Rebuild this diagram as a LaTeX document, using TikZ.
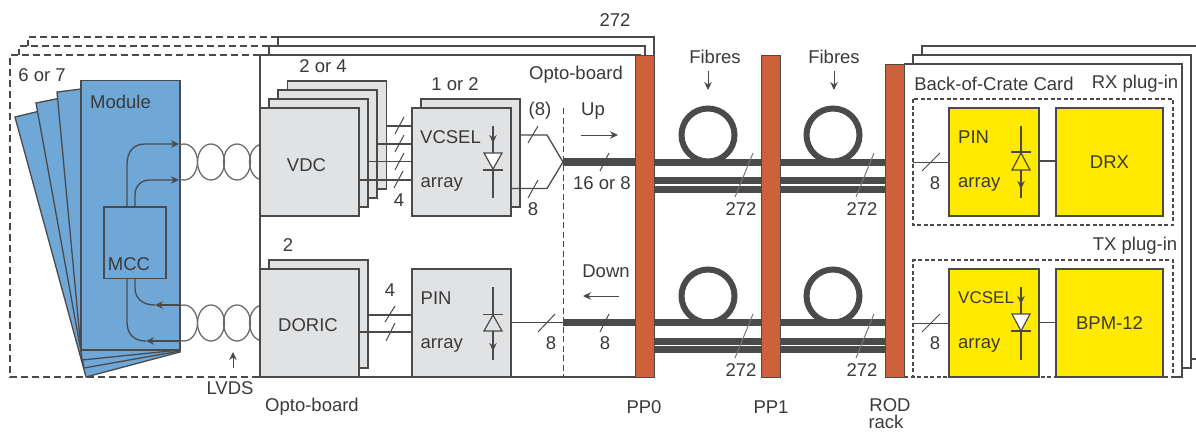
\documentclass[tikz,border=0pt]{standalone}
\usepackage{fontspec}
\setmainfont{Liberation Sans}
\usetikzlibrary{arrows.meta}
\definecolor{ink}{HTML}{4A4A4A}
\definecolor{txt}{HTML}{3A3A3A}
\definecolor{chipgray}{HTML}{E1E2E4}
\definecolor{modblue}{HTML}{6FA7D7}
\definecolor{bar}{HTML}{CD623A}
\definecolor{chipyellow}{HTML}{FFEA00}
\tikzset{
  lab/.style={font=\fontsize{18.5}{20}\selectfont,text=txt,inner sep=0pt,anchor=center},
  small/.style={font=\fontsize{17}{19}\selectfont,text=txt,inner sep=0pt,anchor=center},
  wire/.style={draw=ink,line width=1.3pt},
  slash/.style={draw=ink,line width=1pt},
  longslash/.style={draw=ink!75,line width=1pt},
  tipline/.style={draw=ink,line width=1.3pt,-{Stealth[length=8pt,width=7.5pt]}},
  fibre/.style={draw=ink,line width=7.5pt},
  coil/.style={draw=ink,line width=6pt},
  graychip/.style={draw=ink,line width=1.3pt,fill=chipgray,inner sep=0pt,font=\fontsize{18.5}{20}\selectfont,text=txt},
  yellowchip/.style={draw=ink,line width=1.3pt,fill=chipyellow,inner sep=0pt,font=\fontsize{18.5}{20}\selectfont,text=txt},
  bluebox/.style={draw=ink,line width=1.3pt,fill=modblue},
  barbox/.style={draw=ink,line width=1pt,fill=bar,inner sep=0pt,minimum width=19pt},
  twist/.style={draw=gray!85!black,line width=1.3pt},
  longdash/.style={draw=ink,line width=1.3pt,dash pattern=on 7pt off 4pt},
  shortdash/.style={draw=ink,line width=1.2pt,dash pattern=on 4pt off 2.5pt},
  tri/.style={draw=ink,line width=1.2pt},
}
\begin{document}
\begin{tikzpicture}[x=1pt,y=-1pt]
\useasboundingbox (0,0) rectangle (1196,431);

% back frames, left part
\draw[longdash] (278,37) -- (28,37) -- (28,46);
\draw[longdash] (269,46) -- (19,46) -- (19,55);
\draw[wire] (278,46) -- (278,37) -- (654,37) -- (654,55);
\draw[wire] (269,55) -- (269,46) -- (645,46) -- (645,55);
\draw[longdash] (260,55) -- (10,55) -- (10,377) -- (260,377);
\draw[wire,fill=white] (260,55) rectangle (640,377);

% modules
\draw[bluebox] (15,117) -- (81,101) -- (180,352) -- (86,377) -- cycle;
\draw[bluebox] (36,103) -- (81,94) -- (180,351) -- (84,368) -- cycle;
\draw[bluebox] (57,92) -- (81,89) -- (180,350) -- (82,360) -- cycle;
\node[bluebox,inner sep=0pt,minimum width=99pt,minimum height=269.5pt] (module) at (130.5,215.25) {};
\node[lab] (moduletxt) at (120.5,102) {Module};
\node[bluebox,inner sep=0pt,minimum width=62pt,minimum height=71.5pt] (mcc) at (135,242.75) {};
\node[lab] (mcctxt) at (129,264) {MCC};
\node[lab] (sixseven) at (42,75) {6 or 7};

% twisted pairs
\begin{scope}
\clip (180,100) rectangle (260,400);
\foreach \cx in {184,211,237,263}{
  \draw[twist] (\cx,162) ellipse [x radius=13.5,y radius=18];
  \draw[twist] (\cx,323) ellipse [x radius=13.5,y radius=18];
}
\end{scope}

% MCC links
\coordinate (m1) at (179,144);
\coordinate (m2) at (179,180);
\coordinate (m3) at (155,305);
\coordinate (m4) at (146,341);
\draw[tipline] (mcc.north -| 127,0) -- (127,165) .. controls (127,152) and (133,144) .. (145,144) -- (m1);
\draw[tipline] (mcc.north -| 135,0) -- (135,195) .. controls (135,186) and (141,180) .. (150,180) -- (m2);
\draw[tipline] (module.east |- m3) -- (m3);
\draw[wire] (mcc.south -| 135,0) -- (135,288) .. controls (135,298) and (142,305) .. (m3);
\draw[tipline] (module.east |- m4) -- (m4);
\draw[wire] (mcc.south -| 127,0) -- (127,322) .. controls (127,333) and (133,341) .. (m4);

% VDC stack
\node[graychip,minimum width=99.5pt,minimum height=108pt] (vdc4) at (337,135) {};
\node[graychip,minimum width=99pt,minimum height=108pt] (vdc3) at (327.5,144) {};
\node[graychip,minimum width=99pt,minimum height=108pt] (vdc2) at (318.5,153) {};
\node[graychip,minimum width=99pt,minimum height=108pt] (vdc) at (309.5,162) {};
\node[lab] at (306.5,165) {VDC};
\node[lab] at (323,66) {2 or 4};
% DORIC stack
\node[graychip,minimum width=99pt,minimum height=108pt] (doric2) at (318.5,314) {};
\node[graychip,minimum width=99pt,minimum height=108pt] (doric) at (309.5,323) {};
\node[lab] at (308,325.5) {DORIC};
\node[lab] at (288,245) {2};
% VCSEL stack
\node[graychip,minimum width=99pt,minimum height=108pt] (vcsel2) at (470.5,153) {};
\node[graychip,minimum width=99pt,minimum height=108pt] (vcsel) at (461.5,162) {};
\node[lab,anchor=west] at (420,137) {VCSEL};
\node[lab,anchor=west] at (420.5,184) {array};
\node[lab] at (455,84) {1 or 2};
% PIN
\node[graychip,minimum width=99pt,minimum height=108pt] (pin) at (461.5,323) {};
\node[lab,anchor=west] at (420.5,298) {PIN};
\node[lab,anchor=west] at (420.5,345) {array};

% wires VDC-VCSEL
\draw[wire] (vdc4.east |- 0,126) -- (vcsel.west |- 0,126);
\draw[wire] (vdc3.east |- 0,144) -- (vcsel.west |- 0,144);
\draw[wire] (vdc2.east |- 0,161.5) -- (vcsel.west |- 0,161.5);
\draw[wire] (vdc.east |- 0,180) -- (vcsel.west |- 0,180);
\draw[slash] (395,134) -- (404,117);
\draw[slash] (395,152) -- (404,135);
\draw[slash] (395,170) -- (404,153);
\draw[slash] (394,188) -- (403,171);
\node[lab] at (399,200) {4};
% wires DORIC-PIN
\draw[wire] (doric2.east |- 0,315) -- (pin.west |- 0,315);
\draw[wire] (doric.east |- 0,332) -- (pin.west |- 0,332);
\draw[slash] (385,322) -- (395,306);
\draw[slash] (386,341) -- (395,323);
\node[lab] at (390,290) {4};

% diodes on opto-board
\coordinate (d1t) at (493,126); \coordinate (d1b) at (493,198);
\draw[wire] (d1t) -- (493,170);
\draw[tipline] (d1t) -- (493,143);
\draw[wire] (493,170) -- (d1b);
\draw[tri,fill=white] (484,153) -- (502,153) -- (493,169) -- cycle;
\draw[wire] (483,170) -- (503,170);
\coordinate (d2t) at (493,287); \coordinate (d2b) at (493,360);
\draw[wire] (d2t) -- (d2b);
\draw[tri,fill=chipgray] (493,315) -- (484,331) -- (502,331) -- cycle;
\draw[wire] (483,314.5) -- (503,314.5);
\draw[tipline] (493,331) -- (493,351);

% opto-board outputs
\node[lab] at (540,111) {(8)};
\coordinate (merge) at (563,162);
\draw[wire] (vcsel2.east |- 0,135) -- (547,135) -- (merge);
\draw[wire] (vcsel.east |- 0,188.5) -- (547,188.5) -- (merge);
\draw[slash] (528,143) -- (538,126);
\draw[slash] (528,198) -- (538,180);
\node[lab] at (533,209) {8};
\draw[shortdash,dash pattern=on 6pt off 3.5pt] (563.7,108) -- (563.7,377);
\node[lab] at (576,75) {Opto-board};
\node[lab] at (593,111) {Up};
\coordinate (upa) at (581,135); \coordinate (upb) at (618,135);
\draw[tipline,line width=1pt] (upa) -- (upb);
\node[lab] at (606,271) {Down};
\coordinate (dna) at (619,296); \coordinate (dnb) at (583,296);
\draw[tipline,line width=1pt] (dna) -- (dnb);
\draw[wire] (pin.east |- 0,322.5) -- (563,322.5);
\draw[slash] (538,332) -- (555,314);
\node[lab] at (551,343) {8};
\node[lab] at (615,20) {272};

% bars
\node[barbox,minimum height=322pt] (pp0) at (644.5,216) {};
\node[barbox,minimum height=322pt] (pp1) at (770.5,216) {};

% right back frames
\draw[wire] (922,55) -- (922,46) -- (1199,46) -- (1199,359) -- (1191,359);
\draw[wire] (913,64) -- (913,55) -- (1191,55) -- (1191,368) -- (1182,368);
\fill[white] (904,64) rectangle (1182,377);
\draw[wire] (904,64) -- (1182,64) -- (1182,377) -- (1173,377);
\node[barbox,minimum height=313pt] (rod) at (894.5,220.5) {};

% fibres
\draw[fibre] (563,162) -- (pp0.west |- 0,162);
\draw[fibre] (563,322.5) -- (pp0.west |- 0,322.5);
\foreach \fa/\fb/\cc in {pp0/pp1/708,pp1/rod/833}{
  \draw[coil] (\cc,135) circle [radius=26.5];
  \draw[coil] (\cc,296) circle [radius=26.5];
  \foreach \fy in {162,180,189,322.5,341,349.5}{
    \draw[fibre,line width=7pt] (\fa.east |- 0,\fy) -- (\fb.west |- 0,\fy);
  }
}
\draw[slash] (600,171) -- (609,153);
\node[lab] at (602,183) {16 or 8};
\draw[slash] (600,332) -- (609,314);
\node[lab] at (605,343) {8};
\foreach \sx in {735,856}{
  \draw[longslash] (\sx,197) -- (\sx+18,153);
  \draw[longslash] (\sx,358) -- (\sx+18,314);
}
\node[lab] at (741,209) {272};
\node[lab] at (862,209) {272};
\node[lab] at (741,370) {272};
\node[lab] at (862,370) {272};
\node[lab] at (715,57) {Fibres};
\node[lab] at (834,57) {Fibres};
\coordinate (fa1) at (708,71); \coordinate (fa2) at (708,90);
\coordinate (fb1) at (834,71); \coordinate (fb2) at (834,90);
\draw[tipline,line width=1pt] (fa1) -- (fa2);
\draw[tipline,line width=1pt] (fb1) -- (fb2);

% right side
\node[lab] at (994,84) {Back-of-Crate Card};
\node[lab] at (1135,84) {RX plug-in};
\node[lab] at (1135,246) {TX plug-in};
\draw[shortdash] (913,99) rectangle (1173,225);
\draw[shortdash] (904,377) -- (1173,377) -- (1173,260) -- (913,260) -- (913,377);
\node[yellowchip,minimum width=90pt,minimum height=108pt] (rxpin) at (994,162) {};
\node[yellowchip,minimum width=107pt,minimum height=108pt] (drx) at (1109.5,162) {DRX};
\node[yellowchip,minimum width=90pt,minimum height=108pt] (txv) at (994,323) {};
\node[yellowchip,minimum width=107pt,minimum height=108pt] (bpm) at (1109.5,323) {BPM-12};
\node[lab,anchor=west] at (958,137) {PIN};
\node[lab,anchor=west] at (958,184) {array};
\node[small,anchor=west] at (958,298) {VCSEL};
\node[lab,anchor=west] at (958,345) {array};
\coordinate (rxl) at (913,162.5); \coordinate (txl) at (913,323.5);
\draw[wire] (rxl) -- (rxpin.west |- rxl);
\draw[wire] (txl) -- (txv.west |- txl);
\draw[wire] (rxpin.east |- 0,161) -- (drx.west |- 0,161);
\draw[wire] (txv.east |- 0,322.5) -- (bpm.west |- 0,322.5);
\draw[slash] (922,171) -- (940,153);
\draw[slash] (922,332) -- (940,314);
\node[lab] at (935,183) {8};
\node[lab] at (935,343) {8};
% right diodes
\coordinate (d3t) at (1021,126); \coordinate (d3b) at (1021,198);
\draw[wire] (d3t) -- (d3b);
\draw[tri,fill=chipyellow] (1021,153) -- (1012,170) -- (1030,170) -- cycle;
\draw[wire] (1011,152) -- (1031,152);
\draw[tipline] (1021,170) -- (1021,189);
\coordinate (d4t) at (1021,287); \coordinate (d4b) at (1021,360);
\draw[wire] (d4t) -- (d4b);
\draw[tipline] (d4t) -- (1021,304);
\draw[tri,fill=white] (1012,314) -- (1030,314) -- (1021,331) -- cycle;
\draw[wire] (1011,331) -- (1031,331);

% bottom labels
\node[lab] at (230,388) {LVDS};
\coordinate (lv1) at (233,368); \coordinate (lv2) at (233,352);
\draw[tipline,line width=1pt] (lv1) -- (lv2);
\node[lab] at (312,407) {Opto-board};
\node[lab] at (644,407) {PP0};
\node[lab] at (771,407) {PP1};
\node[lab] at (890,405) {ROD};
\node[lab] at (886,422) {rack};
\end{tikzpicture}
\end{document}
